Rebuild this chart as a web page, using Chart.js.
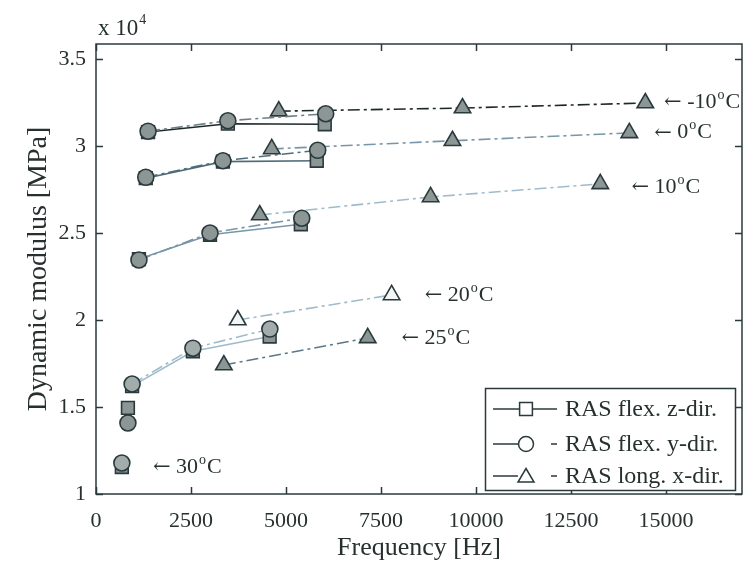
<!DOCTYPE html>
<html>
<head>
<meta charset="utf-8">
<script src="https://cdn.jsdelivr.net/npm/chart.js@4.4.1/dist/chart.umd.min.js"></script>
<style>
  html, body { margin: 0; padding: 0; background: #fff; }
  canvas { display: block; }
</style>
</head>
<body>
<canvas id="chart" width="745" height="569"></canvas>
<script>
// Dynamic modulus (x 10^4 MPa) vs frequency (Hz), one array per temperature and direction.
// [frequency, modulus]
const zDirM10 = [[1370, 3.08], [3470, 3.128], [6020, 3.125]];
const zDir0 = [[1310, 2.815], [3340, 2.91], [5810, 2.915]];
const zDir10 = [[1130, 2.35], [3000, 2.49], [5390, 2.55]];
const zDir20 = [[950, 1.62], [2550, 1.82], [4570, 1.905]];
const zDir25 = [[840, 1.495]];
const zDir30 = [[680, 1.155]];

const yDirM10 = [[1370, 3.085], [3470, 3.145], [6045, 3.185]];
const yDir0 = [[1310, 2.82], [3340, 2.915], [5835, 2.975]];
const yDir10 = [[1130, 2.345], [3000, 2.5], [5415, 2.585]];
const yDir20 = [[950, 1.632], [2550, 1.838], [4575, 1.948]];
const yDir25 = [[840, 1.408]];
const yDir30 = [[680, 1.178]];

const xDirM10 = [[4810, 3.2], [9645, 3.218], [14455, 3.247]];
const xDir0 = [[4625, 2.983], [9380, 3.03], [14035, 3.075]];
const xDir10 = [[4310, 2.603], [8805, 2.707], [13270, 2.782]];
const xDir20 = [[3730, 2.0], [7780, 2.144]];
const xDir25 = [[3365, 1.741], [7150, 1.897]];

const xTicks = [0, 2500, 5000, 7500, 10000, 12500, 15000];
const yTicks = [1, 1.5, 2, 2.5, 3, 3.5];

const legendLabels = ['RAS flex. z-dir.', 'RAS flex. y-dir.', 'RAS long. x-dir.'];

// temperature tags: text, anchor [frequency, modulus]
const tempLabels = ['-10', '0', '10', '20', '25', '30'];
const tempAnchors = [[14950, 3.253], [14690, 3.08], [14090, 2.764], [8650, 2.144], [8040, 1.897], [1500, 1.155]];

const serif = "'Liberation Serif', 'DejaVu Serif', serif";
const ink = '#26302f';
const edge = '#2a3a3c';
const fill = '#8c9695';
const dashDot = [12, 4, 3, 4];

const lineColors = {
  m10: '#1f2828', t0: '#4f6b79', t10: '#7896a8', t20: '#9fbbcb', t25: '#5a788a', t30: '#7896a8'
};

function pts(arr) { return arr.map(p => ({ x: p[0], y: p[1] })); }

function series(arr, style, color, dash, order, bg) {
  return {
    data: pts(arr),
    showLine: true,
    borderColor: color,
    borderWidth: 1.6,
    borderDash: dash,
    pointStyle: style,
    pointRadius: style === 'rect' ? 9 : (style === 'triangle' ? 9.5 : 8),
    pointBackgroundColor: bg || fill,
    pointBorderColor: edge,
    pointBorderWidth: 1.6,
    order: order
  };
}

const datasets = [
  series(zDirM10, 'rect', lineColors.m10, [], 3),
  series(zDir0, 'rect', lineColors.t0, [], 3),
  series(zDir10, 'rect', lineColors.t10, [], 3),
  series(zDir20, 'rect', lineColors.t20, [], 3),
  series(zDir25, 'rect', lineColors.t25, [], 3),
  series(zDir30, 'rect', lineColors.t30, [], 3),
  series(xDirM10, 'triangle', lineColors.m10, dashDot, 2),
  series(xDir0, 'triangle', lineColors.t10, dashDot, 2),
  series(xDir10, 'triangle', lineColors.t20, dashDot, 2),
  series(xDir20, 'triangle', lineColors.t20, dashDot, 2, '#f4f6f6'),
  series(xDir25, 'triangle', lineColors.t25, dashDot, 2),
  series(yDirM10, 'circle', '#6d7f86', dashDot, 1),
  series(yDir0, 'circle', lineColors.t0, dashDot, 1),
  series(yDir10, 'circle', lineColors.t10, dashDot, 1),
  series(yDir20, 'circle', lineColors.t20, dashDot, 1, '#a1acab'),
  series(yDir25, 'circle', lineColors.t25, dashDot, 1),
  series(yDir30, 'circle', lineColors.t30, dashDot, 1, '#a1acab')
];

function marker(ctx, style, cx, cy) {
  ctx.beginPath();
  if (style === 'rect') {
    ctx.rect(cx - 6.4, cy - 6.4, 12.8, 12.8);
  } else if (style === 'circle') {
    ctx.arc(cx, cy, 7.5, 0, Math.PI * 2);
  } else {
    ctx.moveTo(cx, cy - 7.5);
    ctx.lineTo(cx + 8, cy + 6);
    ctx.lineTo(cx - 8, cy + 6);
    ctx.closePath();
  }
  ctx.fillStyle = '#fff';
  ctx.fill();
  ctx.stroke();
}

const decorations = {
  id: 'decorations',
  afterDatasetsDraw(chart) {
    const { ctx, chartArea: a, scales: { x, y } } = chart;
    ctx.save();

    // axes box with inward ticks
    ctx.strokeStyle = edge;
    ctx.lineWidth = 1.5;
    ctx.strokeRect(a.left, a.top, a.right - a.left, a.bottom - a.top);
    ctx.beginPath();
    xTicks.forEach(v => {
      const px = Math.round(x.getPixelForValue(v)) + 0.5;
      ctx.moveTo(px, a.bottom); ctx.lineTo(px, a.bottom - 7);
      ctx.moveTo(px, a.top); ctx.lineTo(px, a.top + 7);
    });
    yTicks.forEach(v => {
      const py = Math.round(y.getPixelForValue(v)) + 0.5;
      ctx.moveTo(a.left, py); ctx.lineTo(a.left + 7, py);
      ctx.moveTo(a.right, py); ctx.lineTo(a.right - 7, py);
    });
    ctx.stroke();

    // frequency tick labels
    ctx.fillStyle = ink;
    ctx.font = '22px ' + serif;
    ctx.textAlign = 'center';
    ctx.textBaseline = 'middle';
    xTicks.forEach(v => ctx.fillText(String(v), x.getPixelForValue(v), a.bottom + 27));

    // exponent above the y axis
    ctx.textBaseline = 'alphabetic';
    ctx.textAlign = 'left';
    ctx.font = '23px ' + serif;
    ctx.fillText('x 10', a.left + 2, 35);
    const w = ctx.measureText('x 10').width;
    ctx.font = '14px ' + serif;
    ctx.fillText('4', a.left + 3 + w, 24);

    // temperature tags
    tempLabels.forEach((t, i) => {
      const px = x.getPixelForValue(tempAnchors[i][0]);
      const py = y.getPixelForValue(tempAnchors[i][1]);
      ctx.textBaseline = 'middle';
      ctx.font = "21px 'DejaVu Serif', serif";
      ctx.fillText('\u2190', px, py + 1);
      let cx = px + ctx.measureText('\u2190').width;
      ctx.font = '22px ' + serif;
      const head = ' ' + t;
      ctx.fillText(head, cx, py);
      cx += ctx.measureText(head).width + 1;
      ctx.font = '14px ' + serif;
      ctx.fillText('o', cx, py - 7);
      cx += ctx.measureText('o').width + 1;
      ctx.font = '22px ' + serif;
      ctx.fillText('C', cx, py);
    });

    // legend box
    const lx = 485, ly = 388, lw = 250, lh = 102;
    ctx.fillStyle = '#fff';
    ctx.fillRect(lx, ly, lw, lh);
    ctx.lineWidth = 1.5;
    ctx.strokeStyle = edge;
    ctx.strokeRect(lx + 0.5, ly + 0.5, lw, lh);
    const rows = [409, 444, 476];
    const styles = ['rect', 'circle', 'triangle'];
    rows.forEach((ry, i) => {
      ctx.strokeStyle = edge;
      ctx.lineWidth = 1.5;
      ctx.beginPath();
      if (i === 0) {
        ctx.moveTo(493, ry); ctx.lineTo(557, ry);
      } else {
        ctx.moveTo(493, ry); ctx.lineTo(518, ry);
        ctx.moveTo(551, ry); ctx.lineTo(557, ry);
      }
      ctx.stroke();
      marker(ctx, styles[i], 526, ry);
      ctx.fillStyle = ink;
      ctx.font = '24px ' + serif;
      ctx.textBaseline = 'middle';
      ctx.fillText(legendLabels[i], 565, ry + 1);
    });

    ctx.restore();
  }
};

new Chart(document.getElementById('chart'), {
  type: 'scatter',
  data: { datasets },
  options: {
    responsive: false,
    animation: false,
    devicePixelRatio: 1,
    layout: { autoPadding: false, padding: { top: 44, right: 3, left: 0, bottom: 0 } },
    plugins: { legend: { display: false }, tooltip: { enabled: false } },
    scales: {
      x: {
        type: 'linear',
        min: 0,
        max: 17000,
        afterBuildTicks: s => { s.ticks = xTicks.map(v => ({ value: v })); },
        afterFit: s => { s.height = 75; },
        grid: { display: false, drawTicks: false },
        border: { display: false },
        ticks: { display: false },
        title: { display: true, text: 'Frequency [Hz]', color: ink, font: { family: serif, size: 26 }, padding: { top: 0, bottom: 5 } }
      },
      y: {
        type: 'linear',
        min: 1,
        max: 3.586,
        afterBuildTicks: s => { s.ticks = yTicks.map(v => ({ value: v })); },
        afterFit: s => { s.width = 96; },
        grid: { display: false, drawTicks: false },
        border: { display: false },
        ticks: { color: ink, font: { family: serif, size: 22 }, padding: 10, callback: v => String(v) },
        title: { display: true, text: 'Dynamic modulus [MPa]', color: ink, font: { family: serif, size: 28 }, padding: { top: 22, bottom: 0 } }
      }
    }
  },
  plugins: [decorations]
});
</script>
</body>
</html>
